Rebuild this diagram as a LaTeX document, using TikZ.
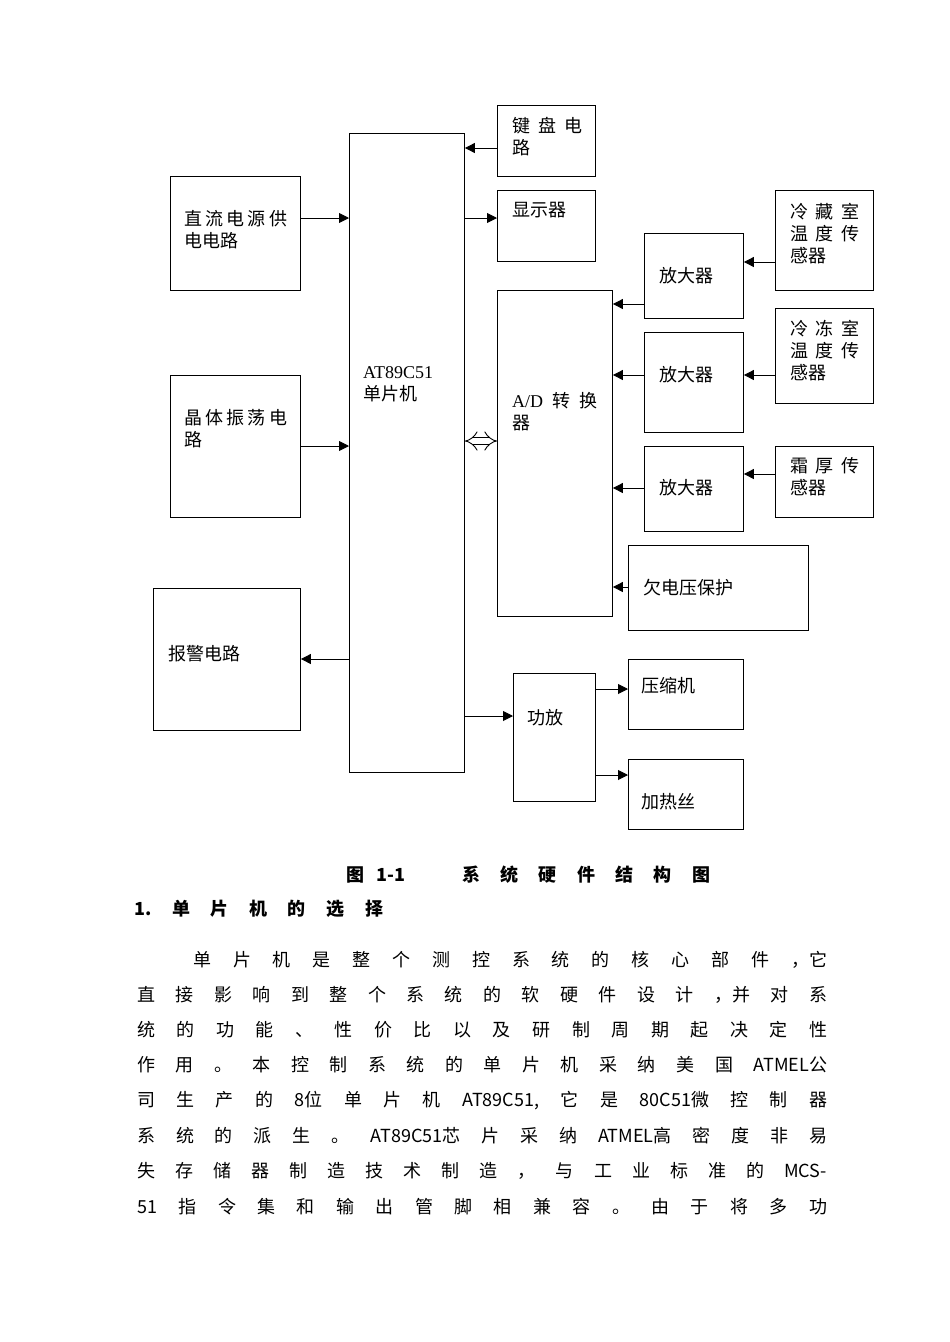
\documentclass[tikz,border=0pt]{standalone}
\usepackage{fontspec}
\setmainfont{Liberation Serif}
\newfontfamily\cjk{Noto Sans CJK SC}
\usetikzlibrary{arrows.meta}
\frenchspacing

\begin{document}
\begin{tikzpicture}[x=1pt,y=-1pt,>={Triangle[length=10pt,width=10pt]},
  blk/.style={draw, line width=0.9pt, inner sep=0pt, anchor=north west},
  lbl/.style={inner sep=0pt, anchor=north west, align=left, font=\cjk\fontsize{18}{22}\selectfont},
  arr/.style={->, line width=0.9pt},
  body/.style={inner sep=0pt, anchor=west, font=\cjk\fontsize{18}{22}\selectfont}]
  \useasboundingbox (0,0) rectangle (950,1342);

  % Define blocks
  \node[blk, minimum width=115pt, minimum height=639pt] (mcu) at (349,133) {};
  \node[blk, minimum width=98pt, minimum height=71pt] (kbd) at (497,105) {};
  \node[blk, minimum width=98pt, minimum height=71pt] (disp) at (497,190) {};
  \node[blk, minimum width=130pt, minimum height=114pt] (dc) at (170,176) {};
  \node[blk, minimum width=130pt, minimum height=142pt] (osc) at (170,375) {};
  \node[blk, minimum width=147pt, minimum height=142pt] (alarm) at (153,588) {};
  \node[blk, minimum width=115pt, minimum height=326pt] (ad) at (497,290) {};
  \node[blk, minimum width=99pt, minimum height=85pt] (ampA) at (644,233) {};
  \node[blk, minimum width=99pt, minimum height=100pt] (ampB) at (644,332) {};
  \node[blk, minimum width=99pt, minimum height=85pt] (ampC) at (644,446) {};
  \node[blk, minimum width=98pt, minimum height=100pt] (senA) at (775,190) {};
  \node[blk, minimum width=98pt, minimum height=95pt] (senB) at (775,308) {};
  \node[blk, minimum width=98pt, minimum height=71pt] (senC) at (775,446) {};
  \node[blk, minimum width=180pt, minimum height=85pt] (uv) at (628,545) {};
  \node[blk, minimum width=82pt, minimum height=128pt] (pa) at (513,673) {};
  \node[blk, minimum width=115pt, minimum height=70pt] (comp) at (628,659) {};
  \node[blk, minimum width=115pt, minimum height=70pt] (heat) at (628,759) {};

  % Block labels
  \node[lbl] (mcutxt) at (363,366) {{\rmfamily AT89C51}\\单片机};
  \node[lbl] (kbdtxt) at (512,117) {\makebox[70pt][s]{键 盘 电}\\路};
  \node[lbl] (disptxt) at (512,202) {显示器};
  \node[lbl] (dctxt) at (184,210) {\makebox[103pt][s]{直 流 电 源 供}\\电电路};
  \node[lbl] (osctxt) at (184,409) {\makebox[103pt][s]{晶 体 振 荡 电}\\路};
  \node[lbl] (alarmtxt) at (168,645) {报警电路};
  \node[lbl] (adtxt) at (512,392) {\makebox[85pt][s]{{\rmfamily A/D} 转 换}\\器};
  \node[lbl] (ampAtxt) at (659,267) {放大器};
  \node[lbl] (ampBtxt) at (659,366) {放大器};
  \node[lbl] (ampCtxt) at (659,479) {放大器};
  \node[lbl] (senAtxt) at (790,203) {\makebox[69pt][s]{冷 藏 室}\\\makebox[69pt][s]{温 度 传}\\感器};
  \node[lbl] (senBtxt) at (790,320) {\makebox[69pt][s]{冷 冻 室}\\\makebox[69pt][s]{温 度 传}\\感器};
  \node[lbl] (senCtxt) at (790,457) {\makebox[69pt][s]{霜 厚 传}\\感器};
  \node[lbl] (uvtxt) at (643,579) {欠电压保护};
  \node[lbl] (patxt) at (527,709) {功放};
  \node[lbl] (comptxt) at (641,677) {压缩机};
  \node[lbl] (heattxt) at (641,793) {加热丝};

  % Draw connections
  \draw[arr] (kbd.west |- 0,148) -- (mcu.east |- 0,148);
  \draw[arr] (mcu.east |- 0,218) -- (disp.west |- 0,218);
  \draw[arr] (dc.east |- 0,218) -- (mcu.west |- 0,218);
  \draw[arr] (osc.east |- 0,446) -- (mcu.west |- 0,446);
  \draw[arr] (mcu.west |- 0,659) -- (alarm.east |- 0,659);
  \draw[line width=0.9pt, double distance=6pt, {Implies}-{Implies}] (mcu.east |- 0,441) -- (ad.west |- 0,441);
  \draw[arr] (ampA.west |- 0,304) -- (ad.east |- 0,304);
  \draw[arr] (senA.west |- 0,262) -- (ampA.east |- 0,262);
  \draw[arr] (ampB.west |- 0,375) -- (ad.east |- 0,375);
  \draw[arr] (senB.west |- 0,375) -- (ampB.east |- 0,375);
  \draw[arr] (ampC.west |- 0,488) -- (ad.east |- 0,488);
  \draw[arr] (senC.west |- 0,474) -- (ampC.east |- 0,474);
  \draw[arr] (uv.west |- 0,587) -- (ad.east |- 0,587);
  \draw[arr] (mcu.east |- 0,716) -- (pa.west |- 0,716);
  \draw[arr] (pa.east |- 0,689) -- (comp.west |- 0,689);
  \draw[arr] (pa.east |- 0,775) -- (heat.west |- 0,775);

  % Caption and text
  \node[body, font=\cjk\bfseries\fontsize{18}{22}\selectfont] (capA) at (346,875) {图\hspace{12pt}1-1};
  \node[body, font=\cjk\bfseries\fontsize{18}{22}\selectfont] (capB) at (462,875) {\makebox[248pt][s]{系 统 硬 件 结 构 图}};
  \node[body, font=\cjk\bfseries\fontsize{18}{22}\selectfont] (head) at (134,909) {\makebox[249pt][s]{1. 单 片 机 的 选 择}};
  \node[body] (ln1) at (193,960) {\makebox[634pt][s]{单 片 机 是 整 个 测 控 系 统 的 核 心 部 件 ，它}};
  \node[body] (ln2) at (137,995) {\makebox[690pt][s]{直 接 影 响 到 整 个 系 统 的 软 硬 件 设 计 ，并 对 系}};
  \node[body] (ln3) at (137,1030) {\makebox[690pt][s]{统 的 功 能 、 性 价 比 以 及 研 制 周 期 起 决 定 性}};
  \node[body] (ln4) at (137,1065) {\makebox[690pt][s]{作 用 。 本 控 制 系 统 的 单 片 机 采 纳 美 国 ATMEL公}};
  \node[body] (ln5) at (137,1101) {\makebox[690pt][s]{司 生 产 的 8位 单 片 机 AT89C51, 它 是 80C51微 控 制 器}};
  \node[body] (ln6) at (137,1136) {\makebox[690pt][s]{系 统 的 派 生 。 AT89C51芯 片 采 纳 ATMEL高 密 度 非 易}};
  \node[body] (ln7) at (137,1171) {\makebox[690pt][s]{失 存 储 器 制 造 技 术 制 造 ， 与 工 业 标 准 的 MCS-}};
  \node[body] (ln8) at (137,1207) {\makebox[690pt][s]{51 指 令 集 和 输 出 管 脚 相 兼 容 。 由 于 将 多 功}};
\end{tikzpicture}
\end{document}
